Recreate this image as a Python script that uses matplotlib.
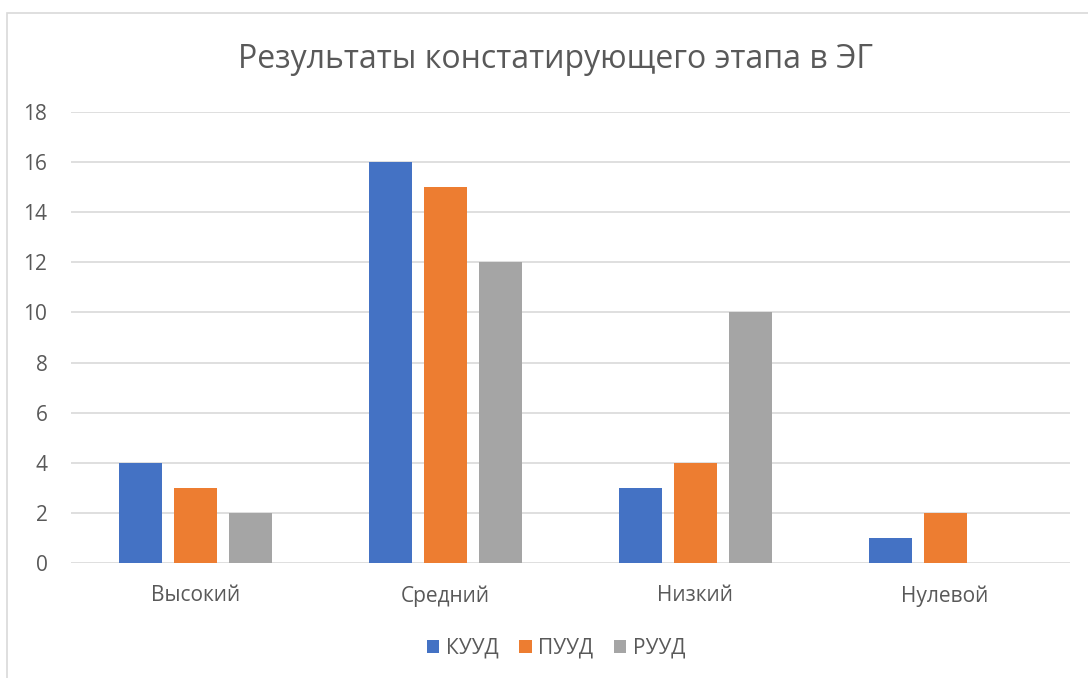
import matplotlib.pyplot as plt
from matplotlib.patches import Rectangle
import numpy as np

plt.rcParams['font.family'] = ['Open Sans', 'DejaVu Sans']

categories = ['Высокий', 'Средний', 'Низкий', 'Нулевой']
series_names = ['КУУД', 'ПУУД', 'РУУД']
kuud = [4, 16, 3, 1]
puud = [3, 15, 4, 2]
ruud = [2, 12, 10, 0]
colors = ['#4472C4', '#ED7D31', '#A5A5A5']

fig = plt.figure(figsize=(10.88, 6.78), dpi=100)
fig.patches.append(Rectangle((7 / 1088, -0.1), 1.2, 1 - 13 / 678 + 0.1,
                             transform=fig.transFigure, fill=False,
                             edgecolor='#D9D9D9', linewidth=1.2))
ax = fig.add_axes([71 / 1088, 1 - 563 / 678, (1070 - 71) / 1088, (563 - 112) / 678])

x = np.arange(len(categories))
w = 0.172
step = 0.22
for i, (vals, name) in enumerate(zip([kuud, puud, ruud], series_names)):
    ax.bar(x + (i - 1) * step, vals, width=w, color=colors[i], label=name, zorder=3)

ax.set_xlim(-0.5, 3.5)
ax.set_ylim(0, 18)
ax.set_yticks(range(0, 19, 2))
ax.set_xticks(x)
ax.set_xticklabels(categories)
ax.grid(axis='y', color='#D9D9D9', linewidth=1.2, zorder=0)
for s in ax.spines.values():
    s.set_visible(False)
ax.tick_params(axis='both', length=0, labelsize=15, colors='#595959')
ax.tick_params(axis='y', pad=17)
ax.tick_params(axis='x', pad=16)

fig.text(556 / 1088, 1 - 60 / 678, 'Результаты констатирующего этапа в ЭГ',
         ha='center', va='center', fontsize=23, color='#595959')

fig.legend(loc='center', bbox_to_anchor=(556 / 1088, 1 - 648 / 678), ncol=3,
           frameon=False, fontsize=15, labelcolor='#595959', handlelength=0.6,
           handleheight=0.6, handletextpad=0.3, columnspacing=1.0)

fig.savefig('out.png', dpi=100)
